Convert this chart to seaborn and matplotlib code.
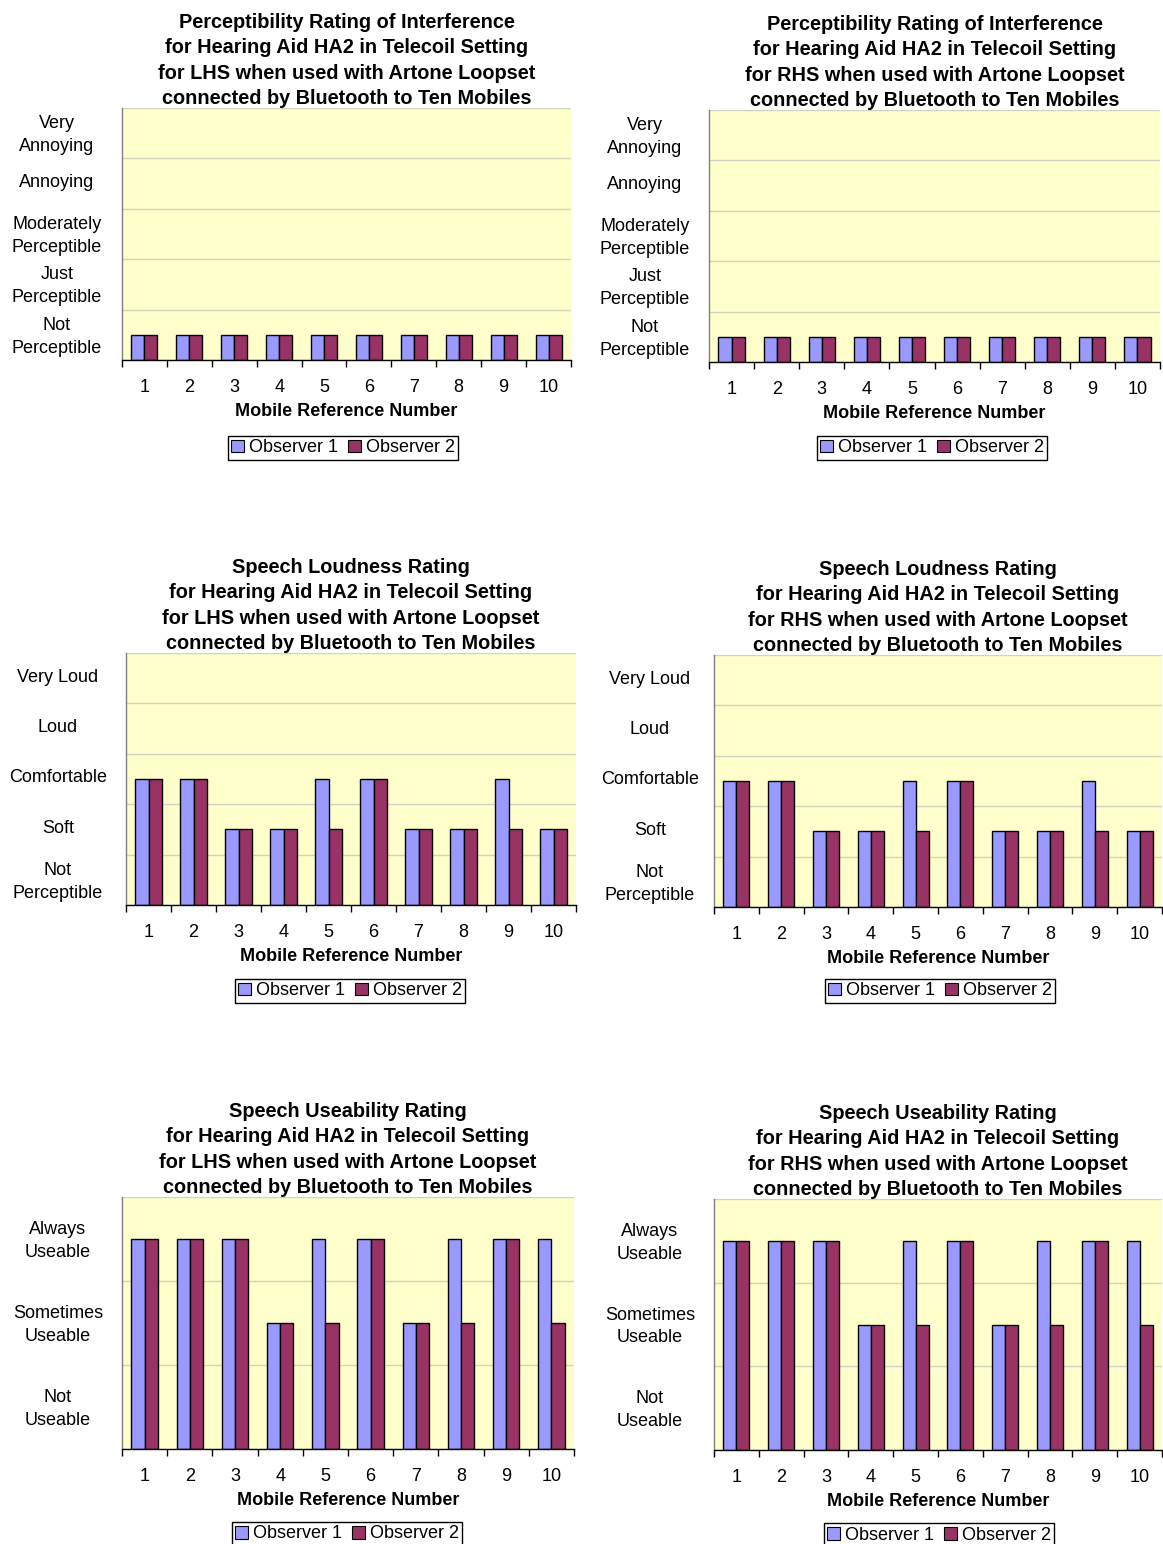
import numpy as np
import pandas as pd
import matplotlib
matplotlib.use("Agg")
import matplotlib.pyplot as plt
import matplotlib.transforms as mtransforms
import seaborn as sns
from matplotlib.patches import Patch

# ---------------- data ----------------
mobiles = ["1", "2", "3", "4", "5", "6", "7", "8", "9", "10"]
observers = ["Observer 1", "Observer 2"]
obs_colors = ["#9999FF", "#993366"]

perc_levels = ["Not\nPerceptible", "Just\nPerceptible", "Moderately\nPerceptible",
               "Annoying", "Very\nAnnoying"]
loud_levels = ["Not\nPerceptible", "Soft", "Comfortable", "Loud", "Very Loud"]
use_levels = ["Not\nUseable", "Sometimes\nUseable", "Always\nUseable"]

# bar heights (band centres: 0.5 = lowest level, 1.5 = second level, ...)
perc_lhs_obs1 = [0.5, 0.5, 0.5, 0.5, 0.5, 0.5, 0.5, 0.5, 0.5, 0.5]
perc_lhs_obs2 = [0.5, 0.5, 0.5, 0.5, 0.5, 0.5, 0.5, 0.5, 0.5, 0.5]
perc_rhs_obs1 = [0.5, 0.5, 0.5, 0.5, 0.5, 0.5, 0.5, 0.5, 0.5, 0.5]
perc_rhs_obs2 = [0.5, 0.5, 0.5, 0.5, 0.5, 0.5, 0.5, 0.5, 0.5, 0.5]

loud_lhs_obs1 = [2.5, 2.5, 1.5, 1.5, 2.5, 2.5, 1.5, 1.5, 2.5, 1.5]
loud_lhs_obs2 = [2.5, 2.5, 1.5, 1.5, 1.5, 2.5, 1.5, 1.5, 1.5, 1.5]
loud_rhs_obs1 = [2.5, 2.5, 1.5, 1.5, 2.5, 2.5, 1.5, 1.5, 2.5, 1.5]
loud_rhs_obs2 = [2.5, 2.5, 1.5, 1.5, 1.5, 2.5, 1.5, 1.5, 1.5, 1.5]

use_lhs_obs1 = [2.5, 2.5, 2.5, 1.5, 2.5, 2.5, 1.5, 2.5, 2.5, 2.5]
use_lhs_obs2 = [2.5, 2.5, 2.5, 1.5, 1.5, 2.5, 1.5, 1.5, 2.5, 1.5]
use_rhs_obs1 = [2.5, 2.5, 2.5, 1.5, 2.5, 2.5, 1.5, 2.5, 2.5, 2.5]
use_rhs_obs2 = [2.5, 2.5, 2.5, 1.5, 1.5, 2.5, 1.5, 1.5, 2.5, 1.5]

titles = {
    "perc": "Perceptibility Rating of Interference",
    "loud": "Speech Loudness Rating",
    "use": "Speech Useability Rating",
}
subtitle = ("for Hearing Aid HA2 in Telecoil Setting\n"
            "for {side} when used with Artone Loopset\n"
            "connected by Bluetooth to Ten Mobiles")
xlabel = "Mobile Reference Number"

# ---------------- style ----------------
sns.set_style("white")
plt.rcParams["font.family"] = ["Liberation Sans", "DejaVu Sans"]
plt.rcParams["text.color"] = "black"
plt.rcParams["axes.labelcolor"] = "black"
plt.rcParams["xtick.color"] = "black"
plt.rcParams["ytick.color"] = "black"

W, H = 1163, 1544
fig = plt.figure(figsize=(W / 100, H / 100), dpi=100)
fig.patch.set_facecolor("white")

TICK_FS = 13
TITLE_FS = 14.3


def draw(box, title, levels, v1, v2, label_cx, legend_c):
    l, t, r, b = box
    ax = fig.add_axes([l / W, 1 - b / H, (r - l) / W, (b - t) / H])
    ax.set_facecolor("#FFFFCC")
    df = pd.DataFrame({
        "Mobile": mobiles + mobiles,
        "Rating": v1 + v2,
        "Observer": [observers[0]] * len(mobiles) + [observers[1]] * len(mobiles),
    })
    sns.barplot(data=df, x="Mobile", y="Rating", hue="Observer",
                order=mobiles, hue_order=observers, palette=obs_colors,
                width=0.58, edgecolor="black", linewidth=1.0, ax=ax,
                legend=False, saturation=1)
    n = len(levels)
    ax.set_xlim(-0.5, len(mobiles) - 0.5)
    ax.set_ylim(0, n)

    # y axis: labels centred in bands, grid at band edges
    ax.set_yticks([i + 0.5 for i in range(n)])
    ax.set_yticklabels(levels, fontsize=TICK_FS, ha="center", linespacing=1.45,
                       color="black")
    ax.set_yticks(range(n + 1), minor=True)
    ax.tick_params(axis="y", which="both", length=0,
                   pad=(l - label_cx) * 0.72)
    shift = mtransforms.ScaledTranslation(0, 3 / 100, fig.dpi_scale_trans)
    for lab in ax.get_yticklabels():
        lab.set_transform(lab.get_transform() + shift)
    ax.grid(axis="y", which="minor", color="#D2D2C0", linewidth=1)
    ax.grid(axis="y", which="major", visible=False)
    ax.grid(axis="x", visible=False)
    ax.set_axisbelow(True)

    # x axis: tick marks between categories, labels at centres
    ax.set_xticks(np.arange(-0.5, len(mobiles), 1.0))
    ax.set_xticklabels([""] * (len(mobiles) + 1))
    ax.set_xticks(range(len(mobiles)), minor=True)
    ax.set_xticklabels(mobiles, minor=True, fontsize=TICK_FS, color="black")
    ax.tick_params(axis="x", which="major", direction="out", length=5,
                   width=1, color="black", bottom=True)
    ax.tick_params(axis="x", which="minor", length=0, pad=13.5)

    ax.set_xlabel(xlabel, fontsize=TICK_FS, fontweight="bold", labelpad=5,
                  color="black")
    ax.set_ylabel("")
    ax.set_title(title, fontsize=TITLE_FS, fontweight="bold",
                 linespacing=1.42, pad=3, color="black")

    for s in ["top", "right"]:
        ax.spines[s].set_visible(False)
    ax.spines["left"].set_color("#808080")
    ax.spines["left"].set_linewidth(1)
    ax.spines["bottom"].set_color("black")
    ax.spines["bottom"].set_linewidth(1)

    handles = [Patch(facecolor=c, edgecolor="black", linewidth=0.8) for c in obs_colors]
    leg = ax.legend(handles, observers, ncol=2, loc="center",
                    bbox_to_anchor=(legend_c[0] / W, 1 - legend_c[1] / H),
                    bbox_transform=fig.transFigure, fontsize=TICK_FS,
                    frameon=True, fancybox=False, framealpha=1,
                    handlelength=0.7, handleheight=0.7, handletextpad=0.25,
                    columnspacing=0.6, borderpad=0.2, borderaxespad=0,
                    labelcolor="black")
    leg.get_frame().set_edgecolor("black")
    leg.get_frame().set_linewidth(1)
    return ax


draw((122, 108, 571, 360), titles["perc"] + "\n" + subtitle.format(side="LHS"),
     perc_levels, perc_lhs_obs1, perc_lhs_obs2, 57, (343, 448))
draw((709, 110, 1160, 362), titles["perc"] + "\n" + subtitle.format(side="RHS"),
     perc_levels, perc_rhs_obs1, perc_rhs_obs2, 645, (932, 448))
draw((126, 653, 576, 905), titles["loud"] + "\n" + subtitle.format(side="LHS"),
     loud_levels, loud_lhs_obs1, loud_lhs_obs2, 58, (350, 991))
draw((714, 655, 1162, 907), titles["loud"] + "\n" + subtitle.format(side="RHS"),
     loud_levels, loud_rhs_obs1, loud_rhs_obs2, 650, (940, 991))
draw((122, 1197, 574, 1449), titles["use"] + "\n" + subtitle.format(side="LHS"),
     use_levels, use_lhs_obs1, use_lhs_obs2, 58, (347, 1534))
draw((714, 1199, 1162, 1450), titles["use"] + "\n" + subtitle.format(side="RHS"),
     use_levels, use_rhs_obs1, use_rhs_obs2, 650, (939, 1535))

fig.savefig("out.png", dpi=100, facecolor="white")
